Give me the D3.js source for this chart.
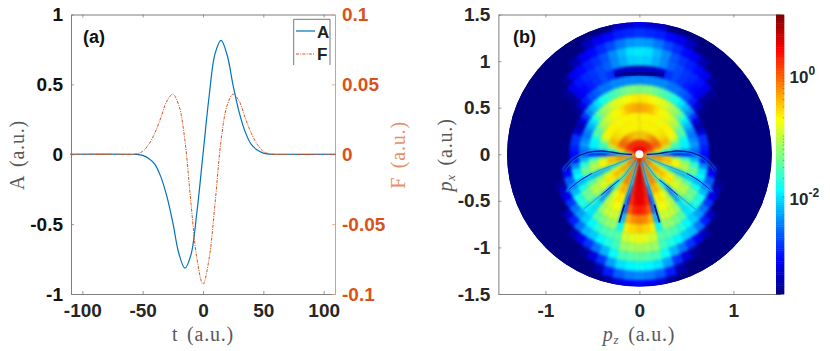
<!DOCTYPE html>
<html>
<head>
<meta charset="utf-8">
<script src="https://cdn.jsdelivr.net/npm/d3@7"></script>
<style>
  html, body { margin: 0; padding: 0; background: #fff; }
  svg { display: block; }
  text { font-family: "Liberation Sans", Arial, sans-serif; }
  .tick text { font-weight: bold; font-size: 19px; }
  .lab { font-family: "Liberation Serif", serif; font-size: 20px; letter-spacing: 0.8px; word-spacing: 3px; }
</style>
</head>
<body>
<div id="chart"></div>
<script>
// panel (a) : pulse
const tValues = [-110, -60, -55, -50, -45, -40, -35, -30, -25, -20, -15, -10, -5, 0, 5, 10, 15, 20, 25, 30, 35, 40, 45, 50, 55, 60, 110];
const aValues = [0, 0, -0.001, -0.008, -0.03, -0.07, -0.16, -0.3, -0.49, -0.71, -0.815, -0.72, -0.41, 0, 0.41, 0.72, 0.815, 0.71, 0.49, 0.3, 0.16, 0.07, 0.03, 0.008, 0.001, 0, 0];
const fValues = [0, 0, 0.0003, 0.002, 0.007, 0.015, 0.026, 0.038, 0.043, 0.035, 0.01, -0.035, -0.075, -0.093, -0.075, -0.035, 0.01, 0.035, 0.043, 0.038, 0.026, 0.015, 0.007, 0.002, 0.0003, 0, 0];
const tTicks = [-100, -50, 0, 50, 100];
const aTicks = [-1, -0.5, 0, 0.5, 1];
const fTicks = [-0.1, -0.05, 0, 0.05, 0.1];

// panel (b) : log10 of the yield, estimated from the colours
// theta goes from the bottom (0) to the top (180), the picture is mirrored left/right
const radii = [0.06, 0.12, 0.2, 0.3, 0.4, 0.5, 0.6, 0.7, 0.8, 0.9, 1.0, 1.1, 1.2, 1.3, 1.4];
const thetas = [0, 5, 10, 15, 20, 25, 30, 35, 40, 45, 50, 55, 60, 65, 70, 75, 80, 85, 90, 95, 100, 105, 110, 115, 120, 125, 130, 135, 140, 145, 150, 155, 160, 165, 170, 175, 180];
const logYield = [
  [1, 0.9, 0.6, 0, 0.2,  0.2, 0.1, -0.2, -0.2, 0,  0, 0, 0, -0.3, -0.2,  -0.1, 0, -0.1, -1, -0.4,  -0.1, 0.1, 0.2, 0.3, 0.3,  0.4, 0.4, 0.4, 0.4, 0.4,  0.4, 0.4, 0.4, 0.4, 0.4,  0.4, 0.4],
  [0.9, 0.7, 0.4, -0.8, -0.1,  0, -0.1, -0.9, -0.2, -0.2,  -0.2, -0.2, -0.5, -1, -0.3,  -0.2, -0.1, -0.3, -1.8, -0.7,  -0.3, -0.1, 0, 0.1, 0.15,  0.2, 0.2, 0.2, 0.2, 0.2,  0.2, 0.2, 0.2, 0.2, 0.2,  0.2, 0.2],
  [0.7, 0.6, 0.3, -1.5, -0.2,  -0.1, -0.3, -1.6, -0.5, -0.4,  -0.3, -0.5, -0.8, -1.8, -0.5,  -0.3, -0.2, -0.5, -2.6, -1.1,  -0.8, -0.5, -0.2, -0.1, -0.05,  -0.05, -0.1, -0.15, -0.2, -0.3,  -0.35, -0.4, -0.45, -0.5, -0.5,  -0.5, -0.5],
  [0.6, 0.55, 0.3, -2, -0.3,  -0.15, -0.3, -1.6, -0.9, -0.5,  -0.4, -0.6, -0.9, -2, -0.7,  -0.45, -0.4, -0.8, -2.9, -1.8,  -1.4, -1, -0.5, -0.4, -0.45,  -0.55, -0.6, -0.65, -0.65, -0.7,  -0.7, -0.7, -0.7, -0.7, -0.7,  -0.7, -0.7],
  [0.55, 0.5, 0.25, -2.5, -0.5,  -0.35, -0.55, -1.4, -2, -0.7,  -0.6, -0.7, -1.1, -2.2, -0.9,  -0.7, -0.8, -1.3, -3, -2.2,  -1.6, -1.6, -1.2, -0.9, -0.75,  -0.7, -0.7, -0.7, -0.7, -0.75,  -0.75, -0.7, -0.7, -0.7, -0.7,  -0.7, -0.65],
  [0.5, 0.45, 0.2, -2.8, -0.7,  -0.6, -0.75, -1.1, -2.5, -1,  -0.85, -1, -1.3, -2.2, -1.15,  -1.05, -1.2, -1.7, -2.9, -2.3,  -1.9, -1.9, -1.8, -1.5, -1.5,  -1.3, -1.1, -1, -0.9, -0.8,  -0.75, -0.7, -0.6, -0.45, -0.4,  -0.35, -0.35],
  [0.3, 0.25, 0, -2.6, -0.8,  -0.75, -0.9, -1.1, -2.3, -1.2,  -1.05, -1.1, -1.5, -2.1, -1.4,  -1.4, -1.7, -2.2, -2.7, -2.5,  -2.3, -2.4, -2.5, -2.4, -2.2,  -2, -1.7, -1.4, -1.2, -1.1,  -0.95, -0.85, -0.8, -0.75, -0.7,  -0.65, -0.65],
  [-0.15, -0.2, -0.4, -2.2, -0.95,  -0.95, -1, -1.2, -2, -1.45,  -1.35, -1.4, -1.8, -2.2, -1.85,  -2, -2.4, -3, -3, -2.9,  -2.8, -2.8, -3.2, -3.4, -3.2,  -2.8, -2.4, -2.2, -2, -1.8,  -1.7, -1.6, -1.5, -1.4, -1.3,  -1.3, -1.3],
  [-0.5, -0.55, -0.65, -1.9, -1.2,  -1.2, -1.35, -1.5, -2, -1.8,  -1.7, -1.8, -2.2, -2.5, -2.6,  -3, -3.3, -3.6, -3.6, -3.6,  -3.6, -3.6, -3.6, -3.6, -3.6,  -3.5, -3.2, -2.9, -2.7, -2.6,  -2.5, -2.5, -2.4, -2.4, -2.4,  -2.4, -2.4],
  [-0.8, -0.85, -0.95, -1.5, -1.5,  -1.55, -1.7, -1.9, -2.1, -2.3,  -2.5, -2.8, -3.1, -3.3, -3.5,  -3.6, -3.6, -3.6, -3.6, -3.6,  -3.6, -3.6, -3.6, -3.6, -3.6,  -3.6, -3.5, -3.1, -3, -2.9,  -2.8, -2.7, -2.8, -3.2, -3.3,  -3.3, -3.3],
  [-1.1, -1.15, -1.2, -1.6, -1.75,  -1.9, -2.1, -2.2, -2.5, -2.9,  -3.3, -3.6, -3.6, -3.6, -3.6,  -3.6, -3.6, -3.6, -3.6, -3.6,  -3.6, -3.6, -3.6, -3.6, -3.6,  -3.6, -3.5, -3.1, -2.95, -2.85,  -2.8, -2.7, -2.6, -2.4, -2.25,  -2.1, -2.05],
  [-1.45, -1.5, -1.55, -1.85, -2.2,  -2.5, -2.8, -3.1, -3.4, -3.6,  -3.6, -3.6, -3.6, -3.6, -3.6,  -3.6, -3.6, -3.6, -3.6, -3.6,  -3.6, -3.6, -3.6, -3.6, -3.6,  -3.6, -3.6, -3.5, -3.1, -3,  -2.9, -2.8, -2.65, -2.4, -2.2,  -2, -1.95],
  [-1.85, -1.9, -2, -2.3, -2.8,  -3.2, -3.5, -3.6, -3.6, -3.6,  -3.6, -3.6, -3.6, -3.6, -3.6,  -3.6, -3.6, -3.6, -3.6, -3.6,  -3.6, -3.6, -3.6, -3.6, -3.6,  -3.6, -3.6, -3.6, -3.6, -3.4,  -3.1, -3, -2.85, -2.7, -2.5,  -2.35, -2.3],
  [-2.4, -2.45, -2.6, -2.9, -3.4,  -3.6, -3.6, -3.6, -3.6, -3.6,  -3.6, -3.6, -3.6, -3.6, -3.6,  -3.6, -3.6, -3.6, -3.6, -3.6,  -3.6, -3.6, -3.6, -3.6, -3.6,  -3.6, -3.6, -3.6, -3.6, -3.6,  -3.6, -3.3, -3.1, -3, -2.9,  -2.85, -2.8],
  [-3, -3.05, -3.2, -3.5, -3.6,  -3.6, -3.6, -3.6, -3.6, -3.6,  -3.6, -3.6, -3.6, -3.6, -3.6,  -3.6, -3.6, -3.6, -3.6, -3.6,  -3.6, -3.6, -3.6, -3.6, -3.6,  -3.6, -3.6, -3.6, -3.6, -3.6,  -3.6, -3.6, -3.6, -3.6, -3.3,  -3.2, -3.1]
];
// thin nodal lines, as [r, theta]
const node1 = [[0.08, 16], [0.3, 16], [0.5, 16.5], [0.68, 16.5], [0.76, 16.5]];
const node2 = [[0.08, 34], [0.3, 36], [0.45, 41], [0.65, 44], [0.84, 45.5]];
const node3 = [[0.08, 65], [0.3, 67], [0.5, 68], [0.7, 66], [0.88, 63]];
const node4 = [[0.08, 88], [0.2, 92], [0.4, 95], [0.55, 92], [0.7, 86], [0.83, 78]];
// darker stretches of these lines
const dark1 = [[0.56, 16.5], [0.66, 16.5], [0.76, 16.5]];
const dark2 = [[0.35, 38], [0.45, 41], [0.6, 43]];
const dark3 = [[0.55, 68], [0.7, 66], [0.84, 63.5]];
const nodeTop = [[0.89, 163], [0.87, 170], [0.86, 180]];
const pTicks = [-1, 0, 1];
const pxTicks = [-1.5, -1, -0.5, 0, 0.5, 1, 1.5];
const cbarTicks = [0, -2];
const cbarMinor = [-3, -2.7, -2.52, -2.4, -2.3, -1.7, -1.52, -1.4, -1.3, -1.22, -1.15, -1.1, -1.05, -1, -0.7, -0.52, -0.4, -0.3, -0.22, -0.15, -0.1, -0.05];
const jetStops = ["#00007f", "#0000ff", "#007fff", "#00ffff", "#7fff7f", "#ffff00", "#ff7f00", "#ff0000", "#7f0000"];

const width = 830, height = 351;
const svg = d3.select("#chart").append("svg").attr("width", width).attr("height", height);

const greyText = "#262626", greyLine = "#7f7f7f", orange = "#D95319", blue = "#0072BD";

function styleAxis(g, lineColor, textColor) {
  g.select(".domain").attr("stroke", lineColor).attr("stroke-width", 1);
  g.selectAll(".tick line").attr("stroke", lineColor).attr("stroke-width", 0.8);
  g.selectAll(".tick text").attr("fill", textColor);
}
const plain = d => String(d);

// ---------- panel (a) ----------
const xA = d3.scaleLinear().domain([-109.4, 109.4]).range([71, 335]);
const yA = d3.scaleLinear().domain([-1, 1]).range([294, 14.5]);
const yF = d3.scaleLinear().domain([-0.1, 0.1]).range([294, 14.5]);

svg.append("g").attr("transform", "translate(0,294)")
  .call(d3.axisBottom(xA).tickValues(tTicks).tickSize(-3).tickSizeOuter(0).tickPadding(10).tickFormat(plain))
  .call(styleAxis, greyLine, greyText);
svg.append("g").attr("transform", "translate(0,14.5)")
  .call(d3.axisTop(xA).tickValues(tTicks).tickSize(-3).tickSizeOuter(0).tickFormat(""))
  .call(styleAxis, greyLine, greyText);
svg.append("g").attr("transform", "translate(71,0)")
  .call(d3.axisLeft(yA).tickValues(aTicks).tickSize(-3).tickSizeOuter(0).tickPadding(8).tickFormat(plain))
  .call(styleAxis, greyLine, "#111");
svg.append("g").attr("transform", "translate(335,0)")
  .call(d3.axisRight(yF).tickValues(fTicks).tickSize(-3).tickSizeOuter(0).tickPadding(7).tickFormat(plain))
  .call(styleAxis, "#e39a78", orange);

const lineA = d3.line().x((d, i) => xA(tValues[i])).y(d => yA(d)).curve(d3.curveCatmullRom);
const lineF = d3.line().x((d, i) => xA(tValues[i])).y(d => yF(d)).curve(d3.curveCatmullRom);
svg.append("path").datum(aValues).attr("d", lineA).attr("fill", "none").attr("stroke", blue).attr("stroke-width", 1.2);
svg.append("path").datum(fValues).attr("d", lineF).attr("fill", "none").attr("stroke", orange).attr("stroke-width", 1)
  .attr("stroke-dasharray", "3,1.2,1,1.2");

// legend
const legend = svg.append("g");
legend.append("path").attr("d", d3.line()([[293.7, 65], [293.7, 19.3], [330, 19.3], [330, 65]]))
  .attr("fill", "#fff").attr("stroke", "#555").attr("stroke-width", 0.8);
legend.append("line").attr("x1", 296).attr("x2", 315).attr("y1", 31).attr("y2", 31).attr("stroke", blue).attr("stroke-width", 1.2);
legend.append("line").attr("x1", 296).attr("x2", 315).attr("y1", 54).attr("y2", 54).attr("stroke", orange).attr("stroke-width", 1).attr("stroke-dasharray", "3,1.2,1,1.2");
legend.append("text").attr("x", 317).attr("y", 38).attr("font-weight", "bold").attr("font-size", 17).attr("fill", "#222").text("A");
legend.append("text").attr("x", 317).attr("y", 60).attr("font-weight", "bold").attr("font-size", 17).attr("fill", "#222").text("F");

svg.append("text").attr("x", 83).attr("y", 43).attr("font-weight", "bold").attr("font-size", 18).attr("fill", "#111").text("(a)");
svg.append("text").attr("class", "lab").attr("x", 203).attr("y", 341).attr("text-anchor", "middle").attr("fill", "#595959").text("t (a.u.)");
svg.append("text").attr("class", "lab").attr("transform", "translate(24,155) rotate(-90)").attr("text-anchor", "middle").attr("fill", "#595959").text("A (a.u.)");
svg.append("text").attr("class", "lab").attr("transform", "translate(405,155) rotate(-90)").attr("text-anchor", "middle").attr("fill", "#e58f68").text("F (a.u.)");

// ---------- panel (b) ----------
const xB = d3.scaleLinear().domain([-1.5, 1.5]).range([498.4, 780.4]);
const yB = d3.scaleLinear().domain([-1.5, 1.5]).range([294, 14.5]);
const rB = d3.scaleLinear().domain([0, 1.5]).range([0, 140.3]);
const jet = d3.scaleLinear().domain(d3.range(9).map(i => -3.6 + i * 4.6 / 8)).range(jetStops).clamp(true);

const defs = svg.append("defs");
defs.append("clipPath").attr("id", "disk").append("circle").attr("r", rB(1.415));
const blur = defs.append("filter").attr("id", "soft").attr("color-interpolation-filters", "sRGB");
blur.append("feGaussianBlur").attr("stdDeviation", 1.8);
const blurThin = defs.append("filter").attr("id", "softThin").attr("color-interpolation-filters", "sRGB")
  .attr("x", "-20%").attr("y", "-20%").attr("width", "140%").attr("height", "140%");
blurThin.append("feGaussianBlur").attr("stdDeviation", 0.7);
const blurHalo = defs.append("filter").attr("id", "softHalo").attr("color-interpolation-filters", "sRGB")
  .attr("x", "-20%").attr("y", "-20%").attr("width", "140%").attr("height", "140%");
blurHalo.append("feGaussianBlur").attr("stdDeviation", 1.3);

const toRad = d => d * Math.PI / 180;
const cells = [];
radii.forEach((r, i) => {
  const inner = i === 0 ? 0 : (radii[i - 1] + r) / 2;
  const outer = i === radii.length - 1 ? 1.5 : (radii[i + 1] + r) / 2;
  thetas.forEach((th, j) => {
    const lo = Math.max(th - 2.5, 0), hi = Math.min(th + 2.5, 180);
    cells.push({ inner, outer, a0: toRad(180 - hi), a1: toRad(180 - lo), v: logYield[i][j] });
    cells.push({ inner, outer, a0: toRad(180 + lo), a1: toRad(180 + hi), v: logYield[i][j] });
  });
});
const arc = d3.arc().innerRadius(d => rB(d.inner)).outerRadius(d => rB(d.outer)).startAngle(d => d.a0).endAngle(d => d.a1);

const disk = svg.append("g").attr("transform", `translate(${xB(0)},${yB(0)})`);
const clipped = disk.append("g").attr("clip-path", "url(#disk)");
clipped.append("circle").attr("r", rB(1.42)).attr("fill", jet(-3.6));
clipped.append("g").attr("filter", "url(#soft)")
  .selectAll("path").data(cells).join("path")
  .attr("d", arc).attr("fill", d => jet(d.v)).attr("stroke", d => jet(d.v)).attr("stroke-width", 0.4);

const nodeLine = d3.line().curve(d3.curveCatmullRom);
const haloGroup = clipped.append("g").attr("filter", "url(#softHalo)");
const nodeGroup = clipped.append("g").attr("filter", "url(#softThin)");
const nodeStyles = [
  [node1, 0.6, "#0060ff", true], [node2, 0.6, "#0060ff", true], [node3, 0.6, "#0060ff", true], [node4, 1.3, "#000090", true],
  [dark1, 1.8, "#00007f", false], [dark2, 0.9, "#0000c0", false], [dark3, 1, "#0000c0", false], [nodeTop, 3.5, "#00007f", false]
];
nodeStyles.forEach(([pts, w, col, halo]) => {
  [1, -1].forEach(side => {
    const xy = pts.map(([r, th]) => [side * rB(r) * Math.sin(toRad(th)), rB(r) * Math.cos(toRad(th))]);
    if (halo) {
      haloGroup.append("path").attr("d", nodeLine(xy)).attr("fill", "none").attr("stroke", "#18c8f0")
        .attr("stroke-width", 2.5).attr("stroke-opacity", 0.6);
    }
    nodeGroup.append("path").attr("d", nodeLine(xy)).attr("fill", "none").attr("stroke", col)
      .attr("stroke-width", w).attr("stroke-opacity", 0.85);
  });
});
disk.append("circle").attr("r", rB(0.043)).attr("fill", "#fff");

svg.append("g").attr("transform", "translate(0,294)")
  .call(d3.axisBottom(xB).tickValues(pTicks).tickSize(-3).tickSizeOuter(0).tickPadding(10).tickFormat(plain))
  .call(styleAxis, greyLine, greyText);
svg.append("g").attr("transform", "translate(0,14.5)")
  .call(d3.axisTop(xB).tickValues(pTicks).tickSize(-3).tickSizeOuter(0).tickFormat(""))
  .call(styleAxis, greyLine, greyText);
svg.append("g").attr("transform", "translate(498.4,0)")
  .call(d3.axisLeft(yB).tickValues(pxTicks).tickSize(-3).tickSizeOuter(0).tickPadding(8).tickFormat(plain))
  .call(styleAxis, greyLine, greyText);

svg.append("text").attr("x", 513).attr("y", 43).attr("font-weight", "bold").attr("font-size", 18).attr("fill", "#111").text("(b)");

const xLabB = svg.append("text").attr("class", "lab").attr("x", 639).attr("y", 341).attr("text-anchor", "middle").attr("fill", "#595959");
xLabB.append("tspan").attr("font-style", "italic").text("p");
xLabB.append("tspan").attr("font-style", "italic").attr("font-size", 13).attr("dy", 3).text("z");
xLabB.append("tspan").attr("dy", -3).text(" (a.u.)");
const yLabB = svg.append("text").attr("class", "lab").attr("transform", "translate(452,155) rotate(-90)").attr("text-anchor", "middle").attr("fill", "#595959");
yLabB.append("tspan").attr("font-style", "italic").text("p");
yLabB.append("tspan").attr("font-style", "italic").attr("font-size", 13).attr("dy", 3).text("x");
yLabB.append("tspan").attr("dy", -3).text(" (a.u.)");

// colorbar
const yC = d3.scaleLinear().domain([-3.6, 1]).range([294, 14.5]);
const cbarX0 = 776, cbarW = 8.3;
const levels = d3.range(128).map(i => -3.6 + (i + 0.5) * 4.6 / 128);
svg.append("g").selectAll("rect").data(levels).join("rect")
  .attr("x", cbarX0).attr("width", cbarW)
  .attr("y", d => yC(d + 2.3 / 128)).attr("height", d => yC(d - 2.3 / 128) - yC(d + 2.3 / 128) + 0.5)
  .attr("fill", d => jet(d));
svg.append("g").selectAll("line").data(cbarMinor.concat(cbarTicks)).join("line")
  .attr("x1", cbarX0 + cbarW - 1.5).attr("x2", cbarX0 + cbarW)
  .attr("y1", d => yC(d)).attr("y2", d => yC(d)).attr("stroke", "#555").attr("stroke-width", 0.5);
const cbarLab = svg.append("g").selectAll("text").data(cbarTicks).join("text")
  .attr("x", 789.5).attr("y", d => yC(d) + 8).attr("font-weight", "bold").attr("font-size", 17).attr("fill", greyText);
cbarLab.append("tspan").text("10");
cbarLab.append("tspan").attr("font-size", 12).attr("dy", -8).text(d => d);
</script>
</body>
</html>
